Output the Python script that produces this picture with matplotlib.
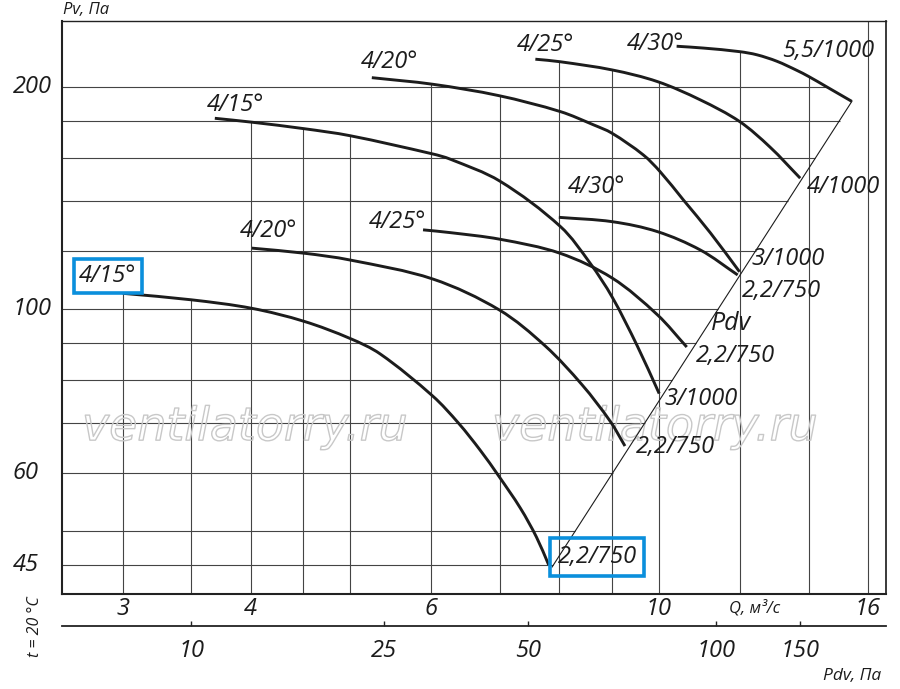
import numpy as np
import matplotlib
matplotlib.use("Agg")
import matplotlib.pyplot as plt
from matplotlib import patheffects, transforms
from matplotlib.ticker import NullLocator
from matplotlib.path import Path
from matplotlib.patches import PathPatch

# ---------------- data ----------------
y_tick_values = [45, 60, 100, 200]
x_tick_values = [3, 4, 6, 10, 16]
h_grid_values = [45, 50, 60, 70, 80, 90, 100, 120, 140, 160, 180, 200]
v_grid_values = [3, 3.5, 4, 4.5, 5, 6, 7, 8, 9, 10, 12, 14, 16]
pdv_tick_labels = [10, 25, 50, 100, 150]
pdv_tick_q = [3.50, 5.39, 7.45, 11.38, 13.74]   # Q position of each Pdv tick

# lower family
q_l15 = [3.00, 3.50, 4.01, 4.51, 5.00, 5.35, 6.02, 6.38, 6.70, 6.98, 7.33, 7.60, 7.81]
pv_l15 = [105.0, 102.9, 100.2, 96.2, 91.2, 86.9, 76.2, 70.0, 64.3, 59.4, 53.7, 49.05, 45.0]

q_l20 = [4.01, 4.51, 5.00, 6.02, 6.99, 7.75, 8.42, 8.97, 9.27]
pv_l20 = [120.9, 119.0, 116.5, 109.8, 99.7, 89.1, 78.9, 70.4, 65.2]

q_l25 = [5.89, 6.26, 7.00, 8.01, 9.01, 9.97, 10.65]
pv_l25 = [128.0, 126.9, 124.3, 119.0, 110.1, 98.2, 88.8]

q_l30 = [7.99, 9.01, 9.97, 10.98, 11.94]
pv_l30 = [133.1, 131.3, 127.3, 120.2, 111.2]

# upper family
q_u15 = [3.69, 4.01, 4.51, 5.00, 6.02, 6.26, 7.00, 8.02, 8.57, 9.01, 9.53, 10.01]
pv_u15 = [181.3, 179.1, 175.5, 171.7, 162.2, 159.6, 149.0, 129.3, 115.4, 103.7, 89.1, 76.8]

q_u20 = [5.25, 6.02, 6.98, 8.02, 8.64, 9.00, 9.66, 10.03, 10.57, 11.23, 11.99]
pv_u20 = [205.8, 201.6, 194.6, 185.1, 177.6, 173.1, 161.7, 153.5, 140.5, 126.8, 112.3]

q_u25 = [7.58, 8.01, 9.01, 9.97, 10.98, 11.99, 12.84, 13.74]
pv_u25 = [218.0, 216.3, 210.8, 203.3, 192.0, 179.5, 165.7, 150.4]

q_u30 = [10.41, 11.06, 11.99, 12.47, 13.04, 13.64, 14.00, 14.59, 15.43]
pv_u30 = [227.0, 225.7, 223.2, 221.0, 216.6, 210.5, 206.6, 199.9, 191.1]

# dynamic pressure line
q_pdv_line = [7.87, 15.43]
pv_pdv_line = [44.7, 191.1]

curves = [(q_l15, pv_l15), (q_l20, pv_l20), (q_l25, pv_l25), (q_l30, pv_l30),
          (q_u15, pv_u15), (q_u20, pv_u20), (q_u25, pv_u25), (q_u30, pv_u30)]

# ---------------- figure ----------------
FONT = ["Open Sans", "DejaVu Sans"]
plt.rcParams["font.family"] = FONT
INK = "#1c1c1c"
GRID = "#444444"
BLUE = "#0a8fdc"
FS = 17

W, H = 900, 689
AX_L, AX_B, AX_W, AX_H = 62, 594, 824, 573
fig = plt.figure(figsize=(W / 100, H / 100), dpi=100)
ax = fig.add_axes([AX_L / W, 1 - AX_B / H, AX_W / W, AX_H / H])
ax.set_xscale("log")
ax.set_yscale("log")
xlo, xhi = 2.618, 16.66
ylo, yhi = 41.09, 245.6
ax.set_xlim(xlo, xhi)
ax.set_ylim(ylo, yhi)

def logi(x, xp, fp):
    return 10 ** np.interp(np.log10(x), np.log10(xp), np.log10(fp))

# vertical grid: from bottom up to the highest curve above that Q
for q in v_grid_values:
    tops = []
    for cq, cpv in curves:
        if cq[0] - 0.02 <= q <= cq[-1]:
            tops.append(logi(q, cq, cpv))
    top = max(tops) if tops else yhi
    ax.plot([q, q], [ylo, top], color=GRID, lw=0.8, zorder=1,
            solid_capstyle="butt")

# horizontal grid: from the left edge to the outer boundary (Pdv line / top curve)
for lev in h_grid_values:
    if lev <= pv_pdv_line[-1]:
        right = logi(lev, pv_pdv_line, q_pdv_line)
    else:
        right = logi(lev, pv_u30[::-1], q_u30[::-1])
    ax.plot([xlo, right], [lev, lev], color=GRID, lw=0.8, zorder=1,
            solid_capstyle="butt")

# watermark
for qc in (3.95, 9.92):
    ax.text(qc, 66.4, "ventilatorry.ru", family="DejaVu Sans", style="italic",
            fontsize=33, ha="center", va="baseline", color=(1, 1, 1, 0),
            path_effects=[patheffects.Stroke(linewidth=1.0, foreground="#c8c8c8")],
            zorder=2)

# smooth curves through the read points (cubic Bezier segments drawn in log space)
sx = AX_W / np.log10(xhi / xlo)
sy = AX_H / np.log10(yhi / ylo)

def smooth_path(cq, cpv):
    P = np.column_stack([np.log10(cq) * sx, np.log10(cpv) * sy])
    n = len(P)
    T = np.zeros_like(P)
    for i in range(n):
        a = P[max(i - 1, 0)]
        b = P[min(i + 1, n - 1)]
        d = b - a
        T[i] = d / np.hypot(*d)
    verts = [P[0]]
    codes = [Path.MOVETO]
    for i in range(n - 1):
        seg = np.hypot(*(P[i + 1] - P[i])) / 3.0
        verts += [P[i] + T[i] * seg, P[i + 1] - T[i + 1] * seg, P[i + 1]]
        codes += [Path.CURVE4] * 3
    V = np.array(verts)
    V = np.column_stack([10 ** (V[:, 0] / sx), 10 ** (V[:, 1] / sy)])
    return Path(V, codes)

for cq, cpv in curves:
    ax.add_patch(PathPatch(smooth_path(cq, cpv), fill=False, ec=INK, lw=2.1,
                           zorder=4, capstyle="butt", joinstyle="round"))

# Pdv line
ax.plot(q_pdv_line, pv_pdv_line, color=INK, lw=0.8, zorder=3)

# labels
lab = dict(fontsize=FS, style="italic", color=INK, ha="center", va="center",
           zorder=6)
ax.text(2.903, 110.8, "4/15°", bbox=dict(boxstyle="square,pad=0.22", fc="white",
                                          ec=BLUE, lw=2.6), **lab)
ax.text(4.167, 127.6, "4/20°", **lab)
ax.text(5.557, 131.2, "4/25°", **lab)
ax.text(8.689, 146.4, "4/30°", **lab)
ax.text(3.870, 189.0, "4/15°", **lab)
ax.text(5.458, 216.1, "4/20°", **lab)
ax.text(7.750, 227.9, "4/25°", **lab)
ax.text(9.921, 228.6, "4/30°", **lab)
ax.text(14.63, 223.8, "5,5/1000", **lab)
ax.text(15.14, 146.4, "4/1000", **lab)
ax.text(13.38, 116.9, "3/1000", **lab)
ax.text(13.17, 105.8, "2,2/750", **lab)
ax.text(11.77, 95.7, "Pdv", **{**lab, "fontsize": 18})
ax.text(11.87, 86.4, "2,2/750", **lab)
ax.text(11.00, 75.5, "3/1000", **lab)
ax.text(10.38, 65.0, "2,2/750", **lab)
ax.text(8.708, 46.1, "2,2/750", bbox=dict(boxstyle="square,pad=0.3", fc="none",
                                           ec=BLUE, lw=2.6), **lab)

# axes frame
for side, lw in (("left", 1.5), ("bottom", 1.5), ("top", 1.0), ("right", 1.25)):
    ax.spines[side].set_linewidth(lw)
    ax.spines[side].set_color("#222222")
    ax.spines[side].set_zorder(7)

ax.xaxis.set_minor_locator(NullLocator())
ax.yaxis.set_minor_locator(NullLocator())
ax.set_xticks(x_tick_values, [str(v) for v in x_tick_values])
ax.tick_params(axis="x", length=0, pad=2.5, labelsize=FS, labelcolor=INK)
for t in ax.get_xticklabels():
    t.set_fontstyle("italic")
ax.set_yticks([])

ytr = transforms.blended_transform_factory(fig.transFigure, ax.transData)
for v in y_tick_values:
    ax.text(13 / W, v, str(v), transform=ytr, ha="left", va="center",
            fontsize=FS, style="italic", color=INK)

# Pdv scale below
ax2 = fig.add_axes([AX_L / W, 1 - 626 / H, AX_W / W, 0.0005])
ax2.set_xscale("log")
ax2.set_xlim(xlo, xhi)
ax2.patch.set_visible(False)
for side in ("top", "left", "right"):
    ax2.spines[side].set_visible(False)
ax2.spines["bottom"].set_linewidth(1.3)
ax2.spines["bottom"].set_color("#222222")
ax2.set_yticks([])
ax2.xaxis.set_minor_locator(NullLocator())
ax2.set_xticks(pdv_tick_q, [str(v) for v in pdv_tick_labels])
ax2.tick_params(axis="x", direction="in", length=3.3, width=1.0, pad=9.5,
                labelsize=FS, labelcolor=INK, color="#222222")
for t in ax2.get_xticklabels():
    t.set_fontstyle("italic")

# axis titles
fig.text(63 / W, 1 - 10 / H, "Pv, Па", fontsize=12, style="italic", color=INK,
         ha="left", va="center")
fig.text(755 / W, 1 - 608.5 / H, "Q, м³/с", fontsize=12, style="italic",
         color=INK, ha="center", va="center")
fig.text(852 / W, 1 - 675.5 / H, "Pdv, Па", fontsize=12.5, style="italic",
         color=INK, ha="center", va="center")
fig.text(35 / W, 1 - 626.5 / H, "t = 20 °C", fontsize=11.5, style="italic",
         color=INK, ha="center", va="center", rotation=90)

fig.savefig("out.png", dpi=100, facecolor="white")
